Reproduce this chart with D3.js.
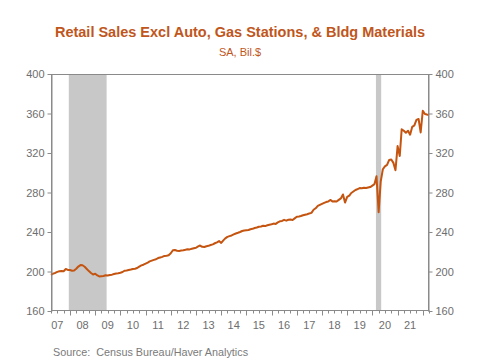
<!DOCTYPE html>
<html><head><meta charset="utf-8">
<script src="https://cdn.jsdelivr.net/npm/d3@7"></script>
<style>html,body{margin:0;padding:0;background:#fff;}svg{display:block;font-family:"Liberation Sans",Arial,sans-serif;}</style>
</head><body>
<svg id="c" width="480" height="360"></svg>
<script>
const title = "Retail Sales Excl Auto, Gas Stations, & Bldg Materials";
const subtitle = "SA, Bil.$";
const source = "Source:  Census Bureau/Haver Analytics";
const startMonth = "2007-04";
// monthly values, Apr 2007 .. Apr 2022 (billions $)
const values = [
  196.5,197.8,198.5,199.6,200.2,200.5,200.3,202.5,201.6,
  201.5,200.8,201.0,202.8,205.0,206.5,206.3,204.8,202.6,200.4,198.5,197.0,
  197.8,196.0,195.0,195.3,195.5,196.2,196.0,196.5,196.8,197.5,198.0,198.3,
  198.8,199.5,200.8,201.0,201.5,202.0,202.6,202.8,203.5,205.0,206.2,206.9,
  208.0,209.0,210.2,211.0,211.8,212.4,213.6,214.2,214.8,215.8,216.0,216.5,
  218.5,221.5,221.8,221.0,220.8,221.2,221.5,222.0,222.6,222.4,223.0,223.6,
  224.0,225.5,226.3,225.0,224.8,225.6,226.0,226.8,227.5,228.6,229.5,230.8,
  228.9,231.5,233.5,235.0,235.8,236.5,237.5,238.5,239.2,240.0,241.0,241.5,
  241.8,242.0,242.8,243.2,244.0,244.5,245.3,245.6,246.3,246.0,246.8,247.4,
  247.8,248.5,248.2,249.8,250.8,251.2,252.3,251.5,252.4,252.6,252.2,253.8,
  255.5,255.8,256.2,257.0,257.5,258.0,258.8,259.4,262.5,264.0,266.5,267.5,
  268.5,269.5,270.3,270.8,272.5,271.0,271.2,270.8,272.5,274.0,278.0,269.8,
  275.5,276.8,279.5,281.0,282.5,283.5,284.5,284.3,284.8,284.5,285.0,285.5,
  287.0,288.5,296.5,260.0,291.0,303.5,306.5,308.0,313.0,313.5,310.0,302.5,
  327.0,317.0,344.0,342.5,340.5,342.5,338.5,346.5,348.0,353.5,354.5,340.8,
  362.8,359.5,359.0,358.5
];
const recessions = [["2007-12-15","2009-06-15"],["2020-02-22","2020-05-08"]];
const yTicks = [160,200,240,280,320,360,400];
const yearLabels = ["07","08","09","10","11","12","13","14","15","16","17","18","19","20","21"];

const parseM = d3.timeParse("%Y-%m");
const t0 = parseM(startMonth);
const data = values.map((v,i)=>({date:d3.timeMonth.offset(t0,i), value:v}));

const svg = d3.select("#c");
const L=51, R=429, T=74, B=311;
const x = d3.scaleTime().domain([data[0].date, data[data.length-1].date]).range([L,R]);
const y = d3.scaleLinear().domain([160,400]).range([B,T]);
const axisCol = "#8a8a8a", textCol = "#6e6e6e";

// recession shading
svg.append("g").selectAll("rect").data(recessions).join("rect")
  .attr("x", d=>x(new Date(d[0])))
  .attr("width", d=>x(new Date(d[1]))-x(new Date(d[0])))
  .attr("y", T).attr("height", B-T).attr("fill","#c8c8c8");

// frame
svg.append("rect").attr("x",L+0.5).attr("y",T+0.5).attr("width",R-L-1).attr("height",B-T-1)
  .attr("fill","none").attr("stroke",axisCol).attr("stroke-width",1);

// line
svg.append("path").datum(data)
  .attr("d", d3.line().x(d=>x(d.date)).y(d=>y(d.value)))
  .attr("fill","none").attr("stroke","#c4540f").attr("stroke-width",2).attr("stroke-linejoin","round");

function styleAxis(g){
  g.select(".domain").attr("stroke",axisCol);
  g.selectAll(".tick line").attr("stroke",axisCol);
  g.selectAll(".tick text").attr("fill",textCol).attr("font-size","11px").attr("font-family","Liberation Sans, Arial, sans-serif");
}
const yl = svg.append("g").attr("transform",`translate(${L+0.5},0)`)
  .call(d3.axisLeft(y).tickValues(yTicks).tickSize(4).tickPadding(3).tickSizeOuter(0));
styleAxis(yl);
const yr = svg.append("g").attr("transform",`translate(${R-0.5},0)`)
  .call(d3.axisRight(y).tickValues(yTicks).tickSize(4).tickPadding(3).tickSizeOuter(0));
styleAxis(yr);

// x axis: quarterly minor ticks, yearly major ticks, labels at mid-year
const xa = svg.append("g").attr("transform",`translate(0,${B-0.5})`);
const quarters = d3.timeMonth.every(3).range(x.domain()[0], d3.timeDay.offset(x.domain()[1],1));
xa.selectAll("line.q").data(quarters).join("line")
  .attr("x1",d=>Math.round(x(d))+0.5).attr("x2",d=>Math.round(x(d))+0.5)
  .attr("y1",0).attr("y2",d=>d.getMonth()===0?5:3)
  .attr("stroke",axisCol);
xa.selectAll("text").data(yearLabels).join("text")
  .attr("x",(d,i)=>x(new Date(2007+i,6,1)))
  .attr("y",18).attr("text-anchor","middle")
  .attr("fill",textCol).attr("font-size","11px").text(d=>d);

// titles
svg.append("text").attr("x",240).attr("y",37).attr("text-anchor","middle")
  .attr("font-size","14.5px").attr("font-weight","bold").attr("fill","#c0561c").text(title);
svg.append("text").attr("x",240).attr("y",56).attr("text-anchor","middle")
  .attr("font-size","11px").attr("fill","#c0561c").text(subtitle);
svg.append("text").attr("x",53).attr("y",356).style("white-space","pre")
  .attr("font-size","10.8px").attr("fill","#7a7a7a").text(source);
</script>
</body></html>
